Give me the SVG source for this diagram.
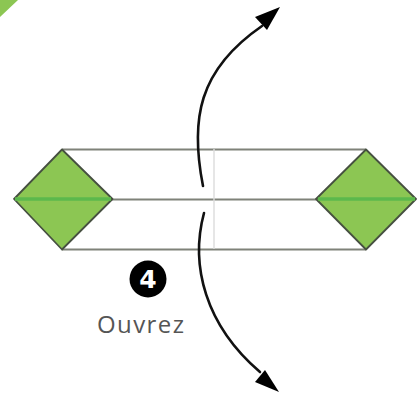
<svg xmlns="http://www.w3.org/2000/svg" width="417" height="394" viewBox="0 0 417 394">
<style>
.edge{fill:none;stroke:#7f8279;stroke-width:2}
.fold{fill:none;stroke:#dcdcdc;stroke-width:1.4}
.dia{fill:#8cc653;stroke:#465040;stroke-width:1.8;stroke-linejoin:round}
.crease{stroke:#5cb84c;stroke-width:3.6}
.arc{fill:none;stroke:#111;stroke-width:2.6;stroke-linecap:round}
.head{fill:#000}
</style>
<rect width="417" height="394" fill="#fff"/>
<g id="corner"><path d="M0 0H18L0 17Z" fill="#8cc653"/></g>
<g id="sheet">
<path class="edge" d="M62 149.500H366M112 199.500H316M62 249.500H366"/>
<path class="fold" d="M214 149V249"/>
</g>
<g id="diamond-left">
<path class="dia" d="M62 149.500L112.500 199L62 249.500L14 199Z"/>
<path class="crease" d="M15 199H111"/>
</g>
<g id="diamond-right">
<path class="dia" d="M366 149.500L416 199L366 249.500L316 199Z"/>
<path class="crease" d="M318 199H415"/>
</g>
<g id="connectors">
<path class="arc" d="M203 186C190 120 198 70 262 26"/>
<path class="head" d="M280 7L267 30L255 17Z"/>
<path class="arc" d="M204 213C190 265 205 325 260 372"/>
<path class="head" d="M279 392L255 382L265 370Z"/>
</g>
<g id="step-4">
<circle cx="148" cy="279" r="18.500" fill="#000"/>
<text x="148" y="288" text-anchor="middle" font-family="'DejaVu Sans',sans-serif" font-size="25" font-weight="700" fill="#fff">4</text>
<text x="97" y="333" font-family="'Open Sans','Noto Sans',sans-serif" font-size="24" letter-spacing="1.4" fill="#555">Ouvrez</text>
</g>
</svg>
